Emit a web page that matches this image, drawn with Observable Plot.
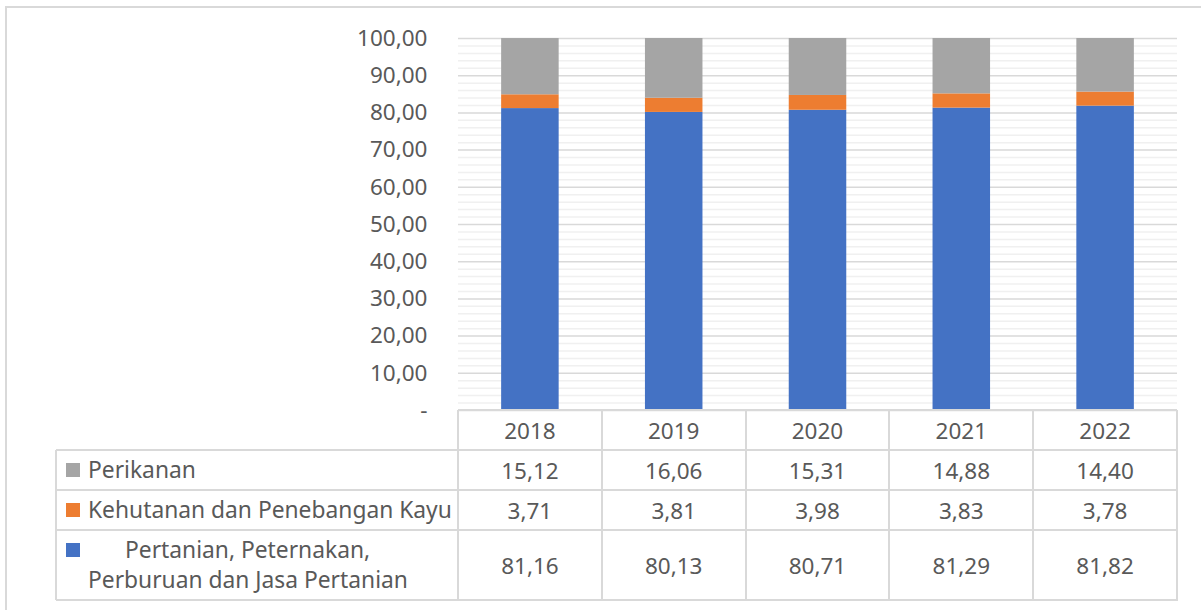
<!DOCTYPE html>
<html><head><meta charset="utf-8">
<script src="https://cdn.jsdelivr.net/npm/d3@7"></script>
<script src="https://cdn.jsdelivr.net/npm/@observablehq/plot@0.6"></script>
<style>
body{margin:0;background:#fff;}
#wrap{position:relative;width:1201px;height:610px;overflow:hidden;font-family:"Noto Sans",sans-serif;color:#595959;background:#fff;}
#frame{position:absolute;left:5px;top:6px;width:1400px;height:800px;border:2px solid #d9d9d9;box-sizing:border-box;}
#chart{position:absolute;left:0;top:0;}
.ln{position:absolute;background:#d9d9d9;}
.cell{position:absolute;display:flex;align-items:center;justify-content:center;font-size:22.5px;white-space:nowrap;}
.lab{position:absolute;font-size:22.8px;white-space:nowrap;}
.sw{position:absolute;width:14px;height:14px;}
</style></head>
<body>
<div id="wrap"><div id="frame"></div><div id="chart"></div><div id="table"></div></div>
<script>
const years = ["2018","2019","2020","2021","2022"];
const perikanan = [15.12,16.06,15.31,14.88,14.40];
const kehutanan = [3.71,3.81,3.98,3.83,3.78];
const pertanian = [81.16,80.13,80.71,81.29,81.82];
const seriesNames = ["Perikanan","Kehutanan dan Penebangan Kayu","Pertanian, Peternakan, Perburuan dan Jasa Pertanian"];
const seriesColors = ["#A5A5A5","#ED7D31","#4472C4"];
const yTicks = [0,10,20,30,40,50,60,70,80,90,100];
const yMinor = [2,4,6,8,12,14,16,18,22,24,26,28,32,34,36,38,42,44,46,48,52,54,56,58,62,64,66,68,72,74,76,78,82,84,86,88,92,94,96,98];

const fmt = v => v.toFixed(2).replace(".", ",");

// stacked rows: bottom to top
const rows = [];
years.forEach((y, i) => {
  rows.push({year: y, series: seriesNames[2], value: pertanian[i]});
  rows.push({year: y, series: seriesNames[1], value: kehutanan[i]});
  rows.push({year: y, series: seriesNames[0], value: perikanan[i]});
});

const chart = Plot.plot({
  width: 1201,
  height: 610,
  marginLeft: 458,
  marginRight: 24,
  marginTop: 38,
  marginBottom: 200,
  style: {background: "transparent", color: "#595959", fontFamily: "Noto Sans, sans-serif"},
  x: {domain: years, paddingInner: 0.6, paddingOuter: 0.3, round: false, axis: null},
  y: {domain: [0, 100], axis: null, label: null},
  color: {domain: seriesNames, range: seriesColors},
  marks: [
    Plot.ruleY(yMinor, {stroke: "#f0f0f0", strokeWidth: 1.5}),
    Plot.ruleY(yTicks, {stroke: "#d9d9d9", strokeWidth: 1.5}),
    Plot.barY(rows, {x: "year", y: "value", fill: "series"}),
    Plot.axisY({ticks: yTicks, tickSize: 0, tickPadding: 31, fontSize: 22.5, label: null,
      tickFormat: d => d === 0 ? "-" : fmt(d)})
  ]
});
document.getElementById("chart").appendChild(chart);

// data table below the plot, aligned with the x scale
const xs = chart.scale("x");
const step = xs.step;
const x0 = xs.apply(years[0]) - xs.paddingOuter * step;
const xEnd = x0 + step * years.length;
const tableLeft = 56;
const rowTops = [410, 450, 490, 530, 600];
const T = document.getElementById("table");
function add(cls, css, txt){
  const d = document.createElement("div"); d.className = cls;
  Object.assign(d.style, css); if (txt != null) d.textContent = txt; T.appendChild(d); return d;
}
// horizontal lines
add("ln", {left: x0 + "px", top: (rowTops[0]-1) + "px", width: (xEnd - x0) + "px", height: "2px"});
for (let k = 1; k < rowTops.length; k++)
  add("ln", {left: tableLeft + "px", top: (rowTops[k]-1) + "px", width: (xEnd - tableLeft + 1) + "px", height: "2px"});
// vertical lines
add("ln", {left: (tableLeft-1) + "px", top: rowTops[1] + "px", width: "2px", height: (rowTops[4]-rowTops[1]) + "px"});
for (let i = 0; i <= years.length; i++)
  add("ln", {left: (x0 + i*step - 1) + "px", top: rowTops[0] + "px", width: "2px", height: (rowTops[4]-rowTops[0]+1) + "px"});

const tableVals = [perikanan, kehutanan, pertanian];
years.forEach((y, i) => {
  const left = x0 + i*step;
  add("cell", {left: left + "px", top: rowTops[0] + "px", width: step + "px", height: (rowTops[1]-rowTops[0]) + "px"}, y);
  tableVals.forEach((vals, r) => {
    add("cell", {left: left + "px", top: rowTops[r+1] + "px", width: step + "px", height: (rowTops[r+2]-rowTops[r+1]) + "px"}, fmt(vals[i]));
  });
});
// row labels with swatches
add("sw", {left: "66px", top: "463px", background: seriesColors[0]});
add("lab", {left: "88px", top: (470 - 16) + "px", lineHeight: "32px"}, seriesNames[0]);
add("sw", {left: "66px", top: "503px", background: seriesColors[1]});
add("lab", {left: "88px", top: (510 - 16) + "px", lineHeight: "32px"}, seriesNames[1]);
add("sw", {left: "66px", top: "543px", background: seriesColors[2]});
add("lab", {left: "125px", top: (550 - 16) + "px", lineHeight: "32px"}, "Pertanian, Peternakan,");
add("lab", {left: "88px", top: (580 - 16) + "px", lineHeight: "32px"}, "Perburuan dan Jasa Pertanian");
</script>
</body></html>
